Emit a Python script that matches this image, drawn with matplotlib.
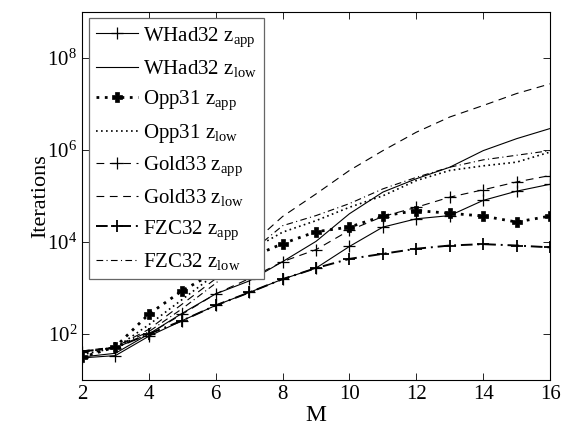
import numpy as np
import matplotlib
matplotlib.use("Agg")
import matplotlib.pyplot as plt

# problem size
M = [2, 3, 4, 5, 6, 7, 8, 9, 10, 11, 12, 13, 14, 15, 16]

# log10 of iteration counts
whad_app = [1.48, 1.53, 1.95, 2.29, 2.62, 2.90, 3.19, 3.43, 3.90, 4.32, 4.50, 4.57, 4.90, 5.10, 5.25]
whad_low = [1.50, 1.58, 2.00, 2.45, 2.87, 3.15, 3.57, 4.01, 4.61, 5.08, 5.37, 5.62, 5.98, 6.24, 6.46]
opp_app = [1.49, 1.72, 2.43, 2.94, 3.35, 3.65, 3.96, 4.22, 4.32, 4.56, 4.68, 4.62, 4.56, 4.43, 4.56]
opp_low = [1.55, 1.70, 2.20, 2.75, 3.30, 3.80, 4.21, 4.46, 4.75, 5.00, 5.33, 5.55, 5.65, 5.73, 5.95]
gold_app = [1.60, 1.70, 2.00, 2.43, 2.87, 3.20, 3.57, 3.83, 4.25, 4.55, 4.75, 4.97, 5.13, 5.30, 5.44]
gold_low = [1.63, 1.72, 2.10, 2.65, 3.20, 3.90, 4.55, 5.04, 5.55, 5.98, 6.38, 6.71, 6.96, 7.22, 7.43]
fzc_app = [1.62, 1.70, 2.00, 2.29, 2.62, 2.90, 3.19, 3.43, 3.63, 3.74, 3.85, 3.92, 3.95, 3.92, 3.88]
fzc_low = [1.60, 1.72, 2.05, 2.55, 3.10, 3.75, 4.35, 4.57, 4.83, 5.15, 5.40, 5.62, 5.78, 5.88, 5.98]

plt.rcParams["font.family"] = ["Liberation Serif", "DejaVu Serif"]
plt.rcParams["mathtext.fontset"] = "custom"
plt.rcParams["mathtext.rm"] = "Liberation Serif"
plt.rcParams["mathtext.it"] = "Liberation Serif"

fig = plt.figure(figsize=(5.63, 4.34), dpi=100)
ax = fig.add_axes([0.1456, 0.1244, 0.8314, 0.849])

k = "black"
series = [
    (whad_app, r"WHad32 z$_{\mathrm{app}}$", dict(ls="-", lw=0.8, marker="+", ms=9, mew=0.9)),
    (whad_low, r"WHad32 z$_{\mathrm{low}}$", dict(ls="-", lw=0.8)),
    (opp_app, r"Opp31 z$_{\mathrm{app}}$", dict(ls=(0, (1, 2)), lw=2.0, marker="P", ms=7, mew=0.5)),
    (opp_low, r"Opp31 z$_{\mathrm{low}}$", dict(ls=(0, (1, 2)), lw=1.2)),
    (gold_app, r"Gold33 z$_{\mathrm{app}}$", dict(ls=(0, (7, 5)), lw=0.8, marker="+", ms=9, mew=0.9)),
    (gold_low, r"Gold33 z$_{\mathrm{low}}$", dict(ls=(0, (7, 5)), lw=0.8)),
    (fzc_app, r"FZC32 z$_{\mathrm{app}}$", dict(ls=(0, (6, 2.5, 1, 2.5)), lw=1.4, marker="+", ms=9, mew=1.3)),
    (fzc_low, r"FZC32 z$_{\mathrm{low}}$", dict(ls=(0, (6, 3, 1, 3)), lw=0.8)),
]
for vals, label, st in series:
    ax.plot(M, 10 ** np.array(vals), color=k, label=label, **st)

ax.set_yscale("log")
ax.set_xlim(2, 16)
ax.set_ylim(1e1, 1e9)
ax.set_xticks([2, 4, 6, 8, 10, 12, 14, 16])
ax.set_yticks([1e2, 1e4, 1e6, 1e8])
ax.set_yticklabels([r"$10^{2}$", r"$10^{4}$", r"$10^{6}$", r"$10^{8}$"])
ax.minorticks_off()
ax.tick_params(direction="in", top=True, right=True, labelsize=15, length=5, width=0.6)
ax.set_xlabel("M", fontsize=17, labelpad=1)
ax.set_ylabel("Iterations", fontsize=16, labelpad=-2)
for s in ax.spines.values():
    s.set_linewidth(0.8)

leg = ax.legend(loc="upper left", bbox_to_anchor=(0.015, 0.982), borderaxespad=0,
                fontsize=15, frameon=True, fancybox=False, framealpha=1, edgecolor="0.4",
                handlelength=2.0, labelspacing=0.46, borderpad=0.33, handletextpad=0.25)
leg.get_frame().set_linewidth(0.9)

fig.savefig("out.png", dpi=100)
